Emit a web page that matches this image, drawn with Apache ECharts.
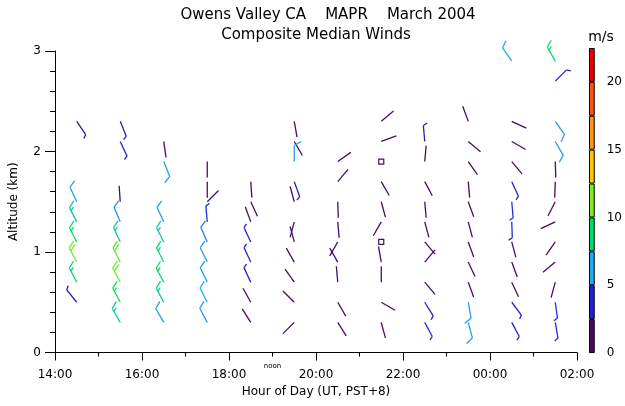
<!DOCTYPE html>
<html><head><meta charset="utf-8">
<script src="https://cdn.jsdelivr.net/npm/echarts@6/dist/echarts.min.js"></script>
<style>html,body{margin:0;padding:0;background:#fff}#c{width:625px;height:406px}</style>
</head><body><div id="c"></div>
<script>
// ---- data: each barb = [altitude km, direction wind comes from (deg), speed m/s]; speed 0 = calm
const hours = [14.5, 15.5, 16.5, 17.5, 18.5, 19.5, 20.5, 21.5, 22.5, 23.5, 24.5, 25.5];
const c1430 = [[2.3,146,3],[1.5,335,6],[1.3,333,7.5],[1.1,333,9],[0.9,332,11],[0.7,332,8.5],[0.5,321,2.8]];
const c1530 = [[2.3,158,3],[2.1,155,3.5],[1.5,356,1.5],[1.3,337,6],[1.1,335,7.5],[0.9,333,10.5],[0.7,332,11],[0.5,332,9],[0.3,330,7.5]];
const c1630 = [[2.1,172,1.5],[1.9,158,6],[1.3,335,6],[1.1,333,7.5],[0.9,333,8.5],[0.7,332,8.5],[0.5,332,8],[0.3,330,6]];
const c1730 = [[1.9,180,1],[1.7,180,1],[1.5,45,2],[1.3,355,4],[1.1,336,5.5],[0.9,334,6],[0.7,334,6],[0.5,333,6.5],[0.3,332,6]];
const c1830 = [[1.7,176,1.5],[1.5,155,1.5],[1.3,340,1.5],[1.1,335,3.5],[0.9,335,3.8],[0.7,335,3.5],[0.5,331,1.5],[0.3,328,1.5]];
const c1930 = [[2.3,170,1.5],[2.1,150,2],[1.9,0,6],[1.7,160,3],[1.5,345,1.5],[1.3,195,1.5],[1.1,345,1.5],[0.9,330,1.5],[0.7,325,1.5],[0.5,315,1.5],[0.3,225,1.5]];
const c2030 = [[1.9,55,1.5],[1.7,40,1.5],[1.5,178,1.5],[1.3,175,1.5],[1.1,210,1.5],[0.9,330,1.5],[0.7,355,1.5],[0.5,150,1.5],[0.3,148,1.5]];
const c2130 = [[2.3,50,1.5],[2.1,70,1.5],[1.9,0,0],[1.7,150,1.5],[1.5,165,1.5],[1.3,210,1.5],[1.1,0,0],[0.9,350,1.5],[0.7,0,1.5],[0.5,120,1.5],[0.3,165,1.5]];
const c2230 = [[2.1,355,2.6],[1.9,5,1.5],[1.7,152,1.5],[1.5,175,1.5],[1.3,165,1.5],[1.1,140,1.5],[0.9,40,1.5],[0.7,140,1.5],[0.5,148,3.5],[0.3,152,4]];
const c2330 = [[2.3,340,1.5],[2.1,130,1.5],[1.9,145,1.5],[1.7,175,1.5],[1.5,160,1.5],[1.3,165,1.5],[1.1,160,1.5],[0.9,155,1.5],[0.7,160,1.5],[0.5,170,6],[0.3,165,6]];
const c0030 = [[2.9,325,6.5],[2.3,115,1.5],[2.1,120,1.5],[1.9,140,1.5],[1.7,155,3.5],[1.5,175,4],[1.3,178,4],[1.1,165,2],[0.9,160,1.5],[0.7,155,1.5],[0.5,143,3.5],[0.3,152,3.5]];
const c0130 = [[2.9,330,9],[2.7,45,3.5],[2.3,145,6],[2.1,150,6],[1.9,178,1.5],[1.7,182,1.5],[1.5,207,1.5],[1.3,245,1.5],[1.1,215,1.5],[0.9,230,1.5],[0.7,195,1.5],[0.5,172,4],[0.3,170,4]];
const columns = [c1430,c1530,c1630,c1730,c1830,c1930,c2030,c2130,c2230,c2330,c0030,c0130];

// colour scale (m/s)
const cbEdges = [0, 2.5, 5, 7.5, 10, 12.5, 15, 17.5, 20, 22.5];
const cbColors = ['#4a0a60', '#2020dc', '#22aaee', '#00dd66', '#80ee22', '#ffc800', '#ff9418', '#ff5010', '#ee0000'];
const cbTicks = [0, 5, 10, 15, 20];

function hexToRgb(h){return [parseInt(h.substr(1,2),16),parseInt(h.substr(3,2),16),parseInt(h.substr(5,2),16)];}
function speedColor(s){
  const mids = cbColors.map((c,i)=>(cbEdges[i]+cbEdges[i+1])/2);
  if (s <= mids[0]) return cbColors[0];
  if (s >= mids[mids.length-1]) return cbColors[cbColors.length-1];
  for (let i=0;i<mids.length-1;i++){
    if (s>=mids[i] && s<=mids[i+1]){
      const t=(s-mids[i])/(mids[i+1]-mids[i]);
      const a=hexToRgb(cbColors[i]), b=hexToRgb(cbColors[i+1]);
      return 'rgb('+a.map((v,k)=>Math.round(v+(b[k]-v)*t)).join(',')+')';
    }
  }
  return cbColors[0];
}

const barbData = [];
columns.forEach((col,i)=>col.forEach(b=>barbData.push([hours[i], b[0], b[1], b[2]])));

const STAFF = 16, FEATHER = 8, GAP = 3.5, LW = 1.3;
function renderBarb(params, api){
  const p = api.coord([api.value(0), api.value(1)]);
  const dir = api.value(2)*Math.PI/180, spd = api.value(3);
  const color = speedColor(spd);
  if (spd === 0) {
    return {type:'rect', shape:{x:p[0]-2.5,y:p[1]-2.5,width:5,height:5}, style:{fill:null, stroke:color, lineWidth:1.2}};
  }
  const dx = Math.sin(dir), dy = -Math.cos(dir);
  const rx = -dy, ry = dx;
  const tx = p[0]+STAFF*dx, ty = p[1]+STAFF*dy;
  const ch = [{type:'line', shape:{x1:p[0],y1:p[1],x2:tx,y2:ty}, style:{stroke:color,lineWidth:LW}}];
  const n = Math.floor(spd/2.5);
  const full = Math.floor(n/2), half = n%2;
  const fx = rx*0.866 + dx*0.5, fy = ry*0.866 + dy*0.5;
  let pos = 0;
  for (let i=0;i<full;i++){
    const bx = tx-dx*pos, by = ty-dy*pos;
    ch.push({type:'line', shape:{x1:bx,y1:by,x2:bx+fx*FEATHER,y2:by+fy*FEATHER}, style:{stroke:color,lineWidth:LW}});
    pos += GAP;
  }
  if (half){
    const bx = tx-dx*pos, by = ty-dy*pos;
    ch.push({type:'line', shape:{x1:bx,y1:by,x2:bx+fx*FEATHER*0.55,y2:by+fy*FEATHER*0.55}, style:{stroke:color,lineWidth:LW}});
  }
  return {type:'group', children: ch};
}

const FONT = 'DejaVu Sans';
const chart = echarts.init(document.getElementById('c'), null, {renderer:'canvas'});
const cbSeries = cbColors.map((c,i)=>({
  type:'bar', xAxisIndex:1, yAxisIndex:1, stack:'cb', barWidth:'100%',
  data:[cbEdges[i+1]-cbEdges[i]], silent:true,
  itemStyle:{color:c, borderColor:'#000', borderWidth:1}
}));

chart.setOption({
  animation:false,
  backgroundColor:'#fff',
  grid:[
    {left:55, right:48, top:51, bottom:53.5},
    {left:589, width:12.5, top:48, height:305}
  ],
  xAxis:[
    {type:'value', min:14, max:26, interval:2, gridIndex:0,
     axisLine:{onZero:false, lineStyle:{color:'#000', width:1}},
     axisTick:{length:8, lineStyle:{color:'#000'}},
     minorTick:{show:true, splitNumber:2, length:4, lineStyle:{color:'#000'}},
     splitLine:{show:false},
     axisLabel:{margin:16, fontFamily:FONT, fontSize:12, color:'#000',
       formatter:v=>String(v%24).padStart(2,'0')+':00'},
     name:'Hour of Day (UT, PST+8)', nameLocation:'middle', nameGap:32,
     nameTextStyle:{fontFamily:FONT, fontSize:12, color:'#000'}},
    {type:'category', gridIndex:1, data:['m/s'], show:false}
  ],
  yAxis:[
    {type:'value', min:0, max:3, interval:1, gridIndex:0,
     axisLine:{show:true, lineStyle:{color:'#000', width:1}},
     axisTick:{show:true, length:10, lineStyle:{color:'#000'}},
     minorTick:{show:true, splitNumber:5, length:5, lineStyle:{color:'#000'}},
     splitLine:{show:false},
     axisLabel:{margin:14, fontFamily:FONT, fontSize:12, color:'#000'},
     name:'Altitude (km)', nameLocation:'middle', nameGap:35, nameRotate:90,
     nameTextStyle:{fontFamily:FONT, fontSize:12, color:'#000'}},
    {type:'value', gridIndex:1, min:0, max:22.5, interval:5, position:'right',
     axisLine:{show:false}, axisTick:{show:false}, splitLine:{show:false},
     axisLabel:{margin:12, fontFamily:FONT, fontSize:12, color:'#000', padding:[0,0,7,0],
       formatter:v=>cbTicks.indexOf(v)>=0?String(v):''}}
  ],
  series:[
    {type:'custom', xAxisIndex:0, yAxisIndex:0, renderItem:renderBarb, data:barbData, silent:true, clip:false}
  ].concat(cbSeries)
});

const noonPx = chart.convertToPixel({xAxisIndex:0}, 19);
chart.setOption({
  graphic:[
    {type:'text', x:328, y:15, style:{text:'Owens Valley CA    MAPR    March 2004', fontFamily:FONT, fontSize:15, fill:'#000', align:'center', verticalAlign:'middle'}},
    {type:'text', x:316, y:35, style:{text:'Composite Median Winds', fontFamily:FONT, fontSize:15, fill:'#000', align:'center', verticalAlign:'middle'}},
    {type:'text', x:601, y:37, style:{text:'m/s', fontFamily:FONT, fontSize:14, fill:'#000', align:'center', verticalAlign:'middle'}},
    {type:'text', x:noonPx, y:366, style:{text:'noon', fontFamily:FONT, fontSize:7, fill:'#000', align:'center', verticalAlign:'middle'}}
  ]
});
</script></body></html>
